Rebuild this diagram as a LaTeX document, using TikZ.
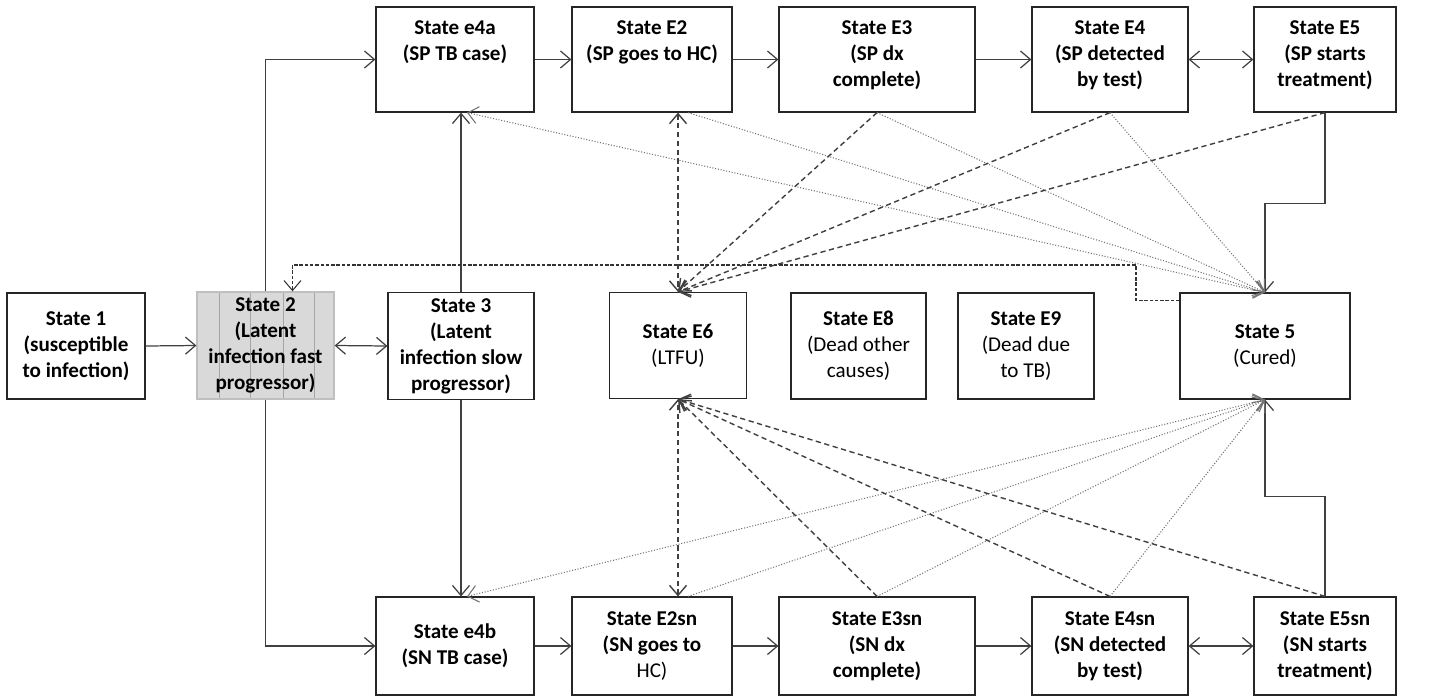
\documentclass[tikz,border=0pt]{standalone}
\usepackage{fontspec}
\setmainfont{Carlito}
\usepackage{tikz}
\usetikzlibrary{arrows.meta}

\newcommand{\toptext}[1]{\parbox[t][1.56cm][t]{2.8cm}{\centering #1}}

\tikzset{
  state/.style={draw=black!85, line width=0.7pt, inner xsep=0pt,
    font=\fontsize{12}{14.8}\selectfont\bfseries},
  toprow/.style={state, minimum height=2.1cm, inner ysep=0.27cm},
  midrow/.style={state, align=center, minimum height=2.12cm},
  botrow/.style={state, align=center, minimum height=1.96cm},
  dead/.style={midrow, line width=1.6pt},
  latent/.style={midrow, draw=black!25, fill=black!15, path picture={
      \foreach \f in {0.44,1.06,1.72,2.34}
        \draw[black!35, line width=0.4pt] (path picture bounding box.north west) ++(\f cm,0cm) -- ++(0cm,-3cm);}},
  link/.style={draw=black!75, line width=0.7pt},
  cure/.style={draw=black!55, line width=0.6pt, densely dotted},
  ltfu/.style={draw=black!75, line width=0.8pt, dash pattern=on 3pt off 2pt},
  relapse/.style={draw=black!80, line width=0.6pt, dash pattern=on 2pt off 1pt},
}

\begin{document}
\begin{tikzpicture}[x=0.02cm, y=-0.02cm, >={Straight Barb[length=2mm,width=3.4mm]}]
\useasboundingbox (0,0) rectangle (1429,697);

% smear positive row
\node[toprow, minimum width=3.16cm] (e4a) at (455,59.5) {\toptext{State e4a\\(SP TB case)}};
\node[toprow, minimum width=3.2cm] (e2) at (652,59.5) {\toptext{State E2\\(SP goes to HC)}};
\node[toprow, minimum width=3.92cm] (e3) at (877,59.5) {\toptext{State E3\\(SP dx\\complete)}};
\node[toprow, minimum width=3.12cm] (e4) at (1110,59.5) {\toptext{State E4\\(SP detected\\by test)}};
\node[toprow, minimum width=2.84cm] (e5) at (1325,59.5) {\toptext{State E5\\(SP starts\\treatment)}};

% middle row
\node[midrow, minimum width=2.76cm] (st1) at (76,346) {State 1\\(susceptible\\to infection)};
\node[latent, minimum width=2.74cm] (st2) at (265.5,345.5) {State 2\\(Latent\\infection fast\\progressor)};
\node[midrow, minimum width=2.92cm] (st3) at (461,346) {State 3\\(Latent\\infection slow\\progressor)};
\node[midrow, minimum width=2.74cm] (e6) at (678,345.5) {State E6\\\mdseries(LTFU)};
\node[dead, minimum width=2.7cm] (e8) at (858.5,346) {State E8\\\mdseries(Dead other\\\mdseries causes)};
\node[dead, minimum width=2.72cm] (e9) at (1026,346) {State E9\\\mdseries(Dead due\\\mdseries to TB)};
\node[midrow, minimum width=3.4cm] (st5) at (1265,346) {State 5\\\mdseries(Cured)};

% smear negative row
\node[botrow, minimum width=3.16cm] (e4b) at (455,646) {State e4b\\(SN TB case)};
\node[botrow, minimum width=3.2cm] (e2sn) at (652,646) {State E2sn\\(SN goes to\\\mdseries HC)};
\node[botrow, minimum width=3.92cm] (e3sn) at (877,646) {State E3sn\\(SN dx\\complete)};
\node[botrow, minimum width=3.12cm] (e4sn) at (1110,646) {State E4sn\\(SN detected\\by test)};
\node[botrow, minimum width=2.84cm] (e5sn) at (1325,646) {State E5sn\\(SN starts\\treatment)};

% solid transitions
\draw[link, ->] (st1.east) -- (st2.west);
\draw[link, <->] (st2.east) -- (st3.west);
\draw[link, ->] (st2.north) |- (e4a.west);
\draw[link, ->] (st2.south) |- (e4b.west);
\draw[link, ->] (st3.north) -- (st3.north |- e4a.south);
\draw[link, ->] (st3.south) -- (st3.south |- e4b.north);
\draw[link, ->] (e4a) -- (e2);
\draw[link, ->] (e2) -- (e3);
\draw[link, ->] (e3) -- (e4);
\draw[link, <->] (e4) -- (e5);
\draw[link, ->] (e4b) -- (e2sn);
\draw[link, ->] (e2sn) -- (e3sn);
\draw[link, ->] (e3sn) -- (e4sn);
\draw[link, <->] (e4sn) -- (e5sn);
\draw[link, ->] (e5.south) -- ++(0,91) -| (st5.north);
\draw[link, ->] (e5sn.north) -- ++(0,-100) -| (st5.south);

% to cured
\draw[cure, <->] ([xshift=0.24cm]e4a.south) -- (st5.north);
\draw[cure, ->] ([xshift=0.72cm]e2.south) -- (st5.north);
\draw[cure, ->] (e3.south) -- (st5.north);
\draw[cure, ->] (e4.south) -- (st5.north);
\draw[cure, <->] ([xshift=0.24cm]e4b.north) -- (st5.south);
\draw[cure, ->] ([xshift=0.72cm]e2sn.north) -- (st5.south);
\draw[cure, ->] (e3sn.north) -- (st5.south);
\draw[cure, ->] (e4sn.north) -- (st5.south);

% to LTFU
\draw[ltfu, <->] (e6.north |- e2.south) -- (e6.north);
\draw[ltfu, ->] (e3.south) -- (e6.north);
\draw[ltfu, ->] (e4.south) -- (e6.north);
\draw[ltfu, ->] (e5.south) -- (e6.north);
\draw[ltfu, <->] (e6.south |- e2sn.north) -- (e6.south);
\draw[ltfu, ->] (e3sn.north) -- (e6.south);
\draw[ltfu, ->] (e4sn.north) -- (e6.south);
\draw[ltfu, ->] (e5sn.north) -- (e6.south);

% relapse
\coordinate (back) at (1136,265);
\draw[relapse, ->] ([yshift=-0.16cm]st5.north west) -| (back) -| ([xshift=0.54cm]st2.north);
\end{tikzpicture}
\end{document}
